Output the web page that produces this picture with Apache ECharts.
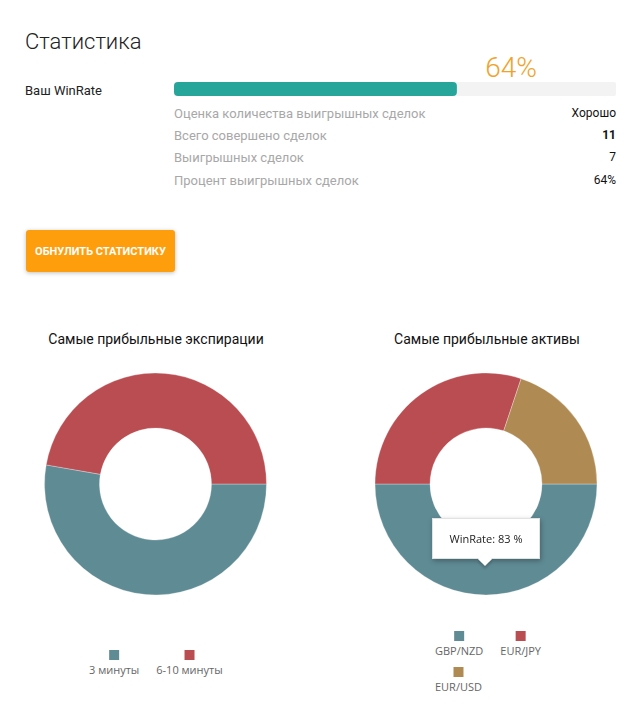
<!DOCTYPE html>
<html>
<head>
<meta charset="utf-8">
<script src="https://cdn.jsdelivr.net/npm/echarts@6/dist/echarts.min.js"></script>
<style>
html,body{margin:0;padding:0;background:#fff;}
#main{width:641px;height:712px;}
</style>
</head>
<body>
<div id="main"></div>
<script>
// ---- data ----
var winRate = 64;
var statLabels = ['Оценка количества выигрышных сделок', 'Всего совершено сделок', 'Выигрышных сделок', 'Процент выигрышных сделок'];
var statValues = ['Хорошо', '11', '7', '64%'];
var expCategories = ['3 минуты', '6-10 минуты'];
var expValues = [67, 60];
var assetCategories = ['GBP/NZD', 'EUR/JPY', 'EUR/USD'];
var assetValues = [83, 50, 33];
var pieColors = ['#5f8b95', '#ba4d51', '#af8a53'];

var chart = echarts.init(document.getElementById('main'), null, {renderer: 'svg'});

var FONT = 'Roboto, "Noto Sans", sans-serif';
var LFONT = '"Open Sans", "Noto Sans", sans-serif';

var graphics = [
  {type: 'text', x: 25, y: 41, style: {text: 'Статистика', font: '300 22px ' + FONT, fill: '#222', verticalAlign: 'middle'}},
  {type: 'text', x: 511, y: 67, style: {text: winRate + '%', font: '300 28px ' + FONT, fill: '#f0a32c', align: 'center', verticalAlign: 'middle'}},
  {type: 'text', x: 25, y: 90, style: {text: 'Ваш WinRate', font: '400 13px ' + FONT, fill: '#222', verticalAlign: 'middle'}}
];
var rowY = [113, 135, 157, 180];
statLabels.forEach(function (t, i) {
  graphics.push({type: 'text', x: 174, y: rowY[i], style: {text: t, font: '400 13px ' + FONT, fill: '#a8a8a8', verticalAlign: 'middle'}});
  graphics.push({type: 'text', x: 616, y: rowY[i], style: {text: statValues[i], font: (i === 1 ? '700 ' : '400 ') + '12px ' + FONT, fill: '#111', align: 'right', verticalAlign: 'middle'}});
});
// button
graphics.push({
  type: 'rect', shape: {x: 26, y: 230, width: 149, height: 42, r: 3},
  style: {fill: '#ff9e0b', shadowBlur: 4, shadowColor: 'rgba(0,0,0,0.25)', shadowOffsetY: 1}
});
graphics.push({type: 'text', x: 100.5, y: 251, style: {text: 'ОБНУЛИТЬ СТАТИСТИКУ', font: '700 11px ' + FONT, fill: '#fff', align: 'center', verticalAlign: 'middle'}});
// pie titles
graphics.push({type: 'text', x: 156, y: 339, style: {text: 'Самые прибыльные экспирации', font: '400 14px ' + FONT, fill: '#111', align: 'center', verticalAlign: 'middle'}});
graphics.push({type: 'text', x: 487, y: 339, style: {text: 'Самые прибыльные активы', font: '400 14px ' + FONT, fill: '#111', align: 'center', verticalAlign: 'middle'}});

function legendCfg(names, left, top, colorOffset) {
  var rich = {t: {fontSize: 11, lineHeight: 18, color: '#666', fontFamily: LFONT, align: 'center'}};
  names.forEach(function (n, i) {
    rich['s' + i] = {width: 10, height: 10, lineHeight: 10, backgroundColor: pieColors[colorOffset + i], align: 'center'};
  });
  return {
    data: names, left: left, top: top, orient: 'horizontal', icon: 'none',
    itemWidth: 0, itemHeight: 10, itemGap: 12, selectedMode: false,
    formatter: function (name) {
      var i = names.indexOf(name);
      return '{s' + i + '|}\n{t|' + name + '}';
    },
    textStyle: {rich: rich}
  };
}

var pieData1 = expCategories.map(function (c, i) { return {name: c, value: expValues[i], itemStyle: {color: pieColors[i]}}; });
var pieData2 = assetCategories.map(function (c, i) { return {name: c, value: assetValues[i], itemStyle: {color: pieColors[i]}}; });

var option = {
  animation: false,
  graphic: graphics,
  grid: {left: 174, top: 82, width: 442, height: 14},
  xAxis: {type: 'value', min: 0, max: 100, show: false},
  yAxis: {type: 'category', data: ['WinRate'], show: false},
  legend: [
    legendCfg(expCategories, 79, 644, 0),
    legendCfg(assetCategories.slice(0, 2), 425, 625, 0),
    legendCfg(assetCategories.slice(2), 425, 661, 2)
  ],
  tooltip: {
    trigger: 'item', alwaysShowContent: true, transitionDuration: 0,
    backgroundColor: '#fff', borderColor: '#e2e2e2', borderWidth: 1, padding: [10, 16],
    extraCssText: 'box-shadow: 1px 2px 5px rgba(0,0,0,0.3); border-radius:0; width:74px; height:19px;',
    textStyle: {fontFamily: LFONT, fontSize: 11, color: '#222'},
    position: function () { return [432, 518]; },
    formatter: function (p) {
      return '<div style="text-align:center;line-height:19px;">WinRate: ' + p.value + ' %</div>' +
        '<div style="position:absolute;left:50%;bottom:-6px;width:10px;height:10px;margin-left:-6px;background:#fff;transform:rotate(45deg);box-shadow:2px 2px 3px rgba(0,0,0,0.2);"></div>';
    }
  },
  series: [
    {
      type: 'bar', data: [winRate], barWidth: 14, showBackground: true,
      backgroundStyle: {color: '#f3f3f3', borderRadius: 2},
      itemStyle: {color: '#26a69a', borderRadius: 4}, silent: true, tooltip: {show: false}
    },
    {
      type: 'pie', name: 'exp', center: [155.5, 484], radius: [56, 111], startAngle: 0, clockwise: true,
      label: {show: false}, labelLine: {show: false}, data: pieData1,
      itemStyle: {borderColor: 'rgba(255,255,255,0.5)', borderWidth: 0.6},
      emphasis: {scale: false}
    },
    {
      type: 'pie', name: 'assets', center: [486, 484], radius: [56, 111], startAngle: 0, clockwise: true,
      label: {show: false}, labelLine: {show: false}, data: pieData2,
      itemStyle: {borderColor: 'rgba(255,255,255,0.5)', borderWidth: 0.6},
      emphasis: {scale: false}
    }
  ]
};
chart.setOption(option);
chart.dispatchAction({type: 'showTip', seriesIndex: 2, dataIndex: 0});
</script>
</body>
</html>
